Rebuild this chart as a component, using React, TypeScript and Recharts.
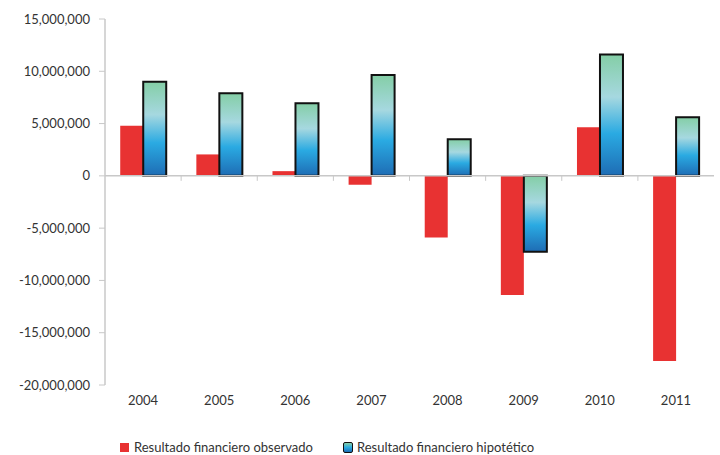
import React from 'react';
import {
    BarChart,
    Bar,
    XAxis,
    YAxis,
    ReferenceLine,
    Legend
} from 'recharts';

const years = ['2004', '2005', '2006', '2007', '2008', '2009', '2010', '2011'];
const observado = [4800000, 2050000, 450000, -850000, -5900000, -11400000, 4650000, -17700000];
const hipotetico = [9000000, 7900000, 6950000, 9650000, 3500000, -7250000, 11600000, 5600000];
const yTicks = [-20000000, -15000000, -10000000, -5000000, 0, 5000000, 10000000, 15000000];

const FONT = 'Lato, "Open Sans", sans-serif';

const chartData = years.map((y, i) => ({ year: y, obs: observado[i], hip: hipotetico[i] }));

// zero line with small tick marks between categories
const ZeroLine = (props: any) => {
    const { x1, y1, x2, y2 } = props;
    const n = years.length;
    const marks = [];
    for (let i = 1; i < n; i++) {
        const x = x1 + ((x2 - x1) * i) / n;
        marks.push(<line key={i} x1={x} x2={x} y1={y1} y2={y1 + 5} stroke="#c8c8c8" strokeWidth={1} />);
    }
    return (
        <g>
            <line x1={x1} y1={y1} x2={x2} y2={y2} stroke="#c8c8c8" strokeWidth={1.5} />
            {marks}
        </g>
    );
};

const LegendContent = () => (
    <div style={{ display: 'flex', fontFamily: FONT, fontSize: 13, color: '#333', paddingTop: 24, paddingLeft: 120 }}>
        <div style={{ display: 'flex', alignItems: 'center', marginRight: 30 }}>
            <span style={{ width: 9, height: 9, background: '#e83232', display: 'inline-block', marginRight: 5 }} />
            <span>Resultado financiero observado</span>
        </div>
        <div style={{ display: 'flex', alignItems: 'center' }}>
            <span style={{
                width: 8, height: 9, display: 'inline-block', marginRight: 4, borderRadius: 2,
                border: '1.5px solid #111', background: 'linear-gradient(#86cfa8, #2aaae0, #1e6db5)'
            }} />
            <span>Resultado financiero hipotético</span>
        </div>
    </div>
);

export default function App() {
    return (
        <div style={{ position: 'absolute', left: 0, top: 0, background: '#fff' }}>
            <BarChart
                width={720}
                height={455}
                data={chartData}
                margin={{ top: 19, right: 6, left: 0, bottom: 0 }}
                barCategoryGap="20%"
                barGap={0}
            >
                <defs>
                    <linearGradient id="hipGrad" x1="0" y1="0" x2="0" y2="1">
                        <stop offset="0%" stopColor="#84cea6" />
                        <stop offset="35%" stopColor="#a6d8e0" />
                        <stop offset="65%" stopColor="#2aaae2" />
                        <stop offset="100%" stopColor="#1e6cb4" />
                    </linearGradient>
                </defs>
                <XAxis
                    dataKey="year"
                    axisLine={false}
                    tickLine={false}
                    tickSize={0}
                    tickMargin={11}
                    height={30}
                    tick={{ fill: '#333', fontSize: 13, fontFamily: FONT }}
                />
                <YAxis
                    type="number"
                    domain={[-20000000, 15000000]}
                    ticks={yTicks}
                    interval={0}
                    width={105}
                    tickSize={6}
                    tickMargin={9}
                    axisLine={{ stroke: '#c8c8c8', strokeWidth: 1.5 }}
                    tickLine={{ stroke: '#c8c8c8' }}
                    tick={{ fill: '#333', fontSize: 13, fontFamily: FONT }}
                    tickFormatter={(v: number) => v.toLocaleString('en-US')}
                />
                <ReferenceLine y={0} shape={ZeroLine} />
                <Legend verticalAlign="bottom" height={40} content={<LegendContent />} />
                <Bar dataKey="obs" name="Resultado financiero observado" fill="#e83232" isAnimationActive={false} />
                <Bar dataKey="hip" name="Resultado financiero hipotético" fill="url(#hipGrad)" stroke="#111" strokeWidth={2} isAnimationActive={false} />
            </BarChart>
        </div>
    );
}
